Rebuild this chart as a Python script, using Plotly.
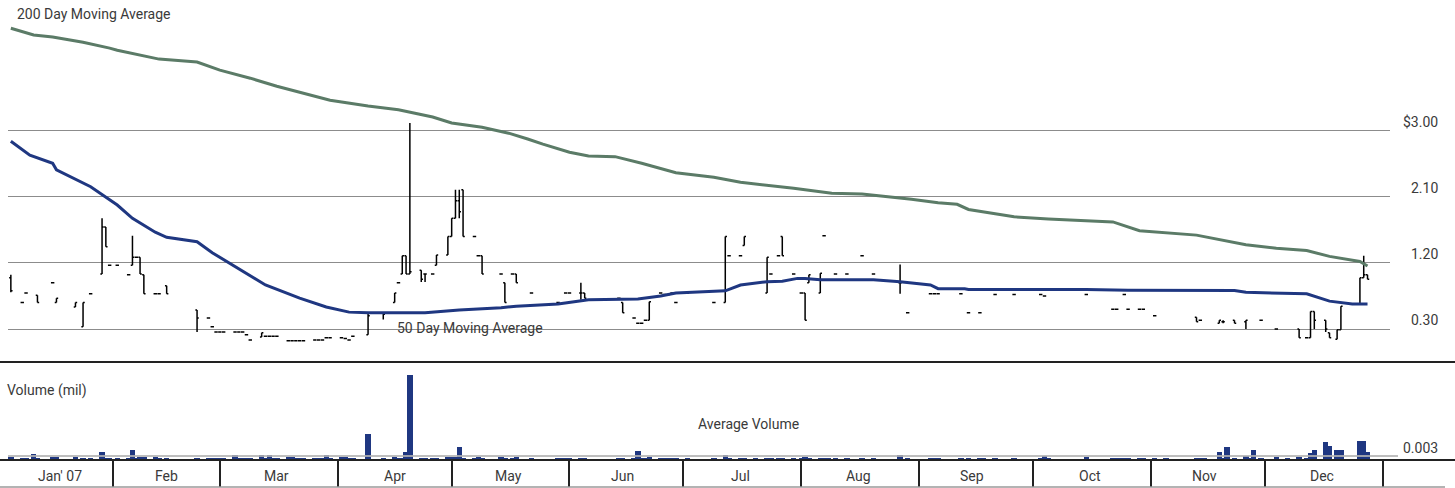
import plotly.graph_objects as go

# ---------------- daily price bars (2007), $ ----------------
price_days = [
    # Jan
    "01-05", "01-08", "01-09", "01-12", "01-16", "01-17", "01-22", "01-24", "01-26", "01-29", "01-30", "01-31",
    # Feb
    "02-02", "02-05", "02-06", "02-07", "02-08", "02-09", "02-12", "02-13", "02-15", "02-23", "02-26", "02-27", "02-28",
    # Mar
    "03-01", "03-02", "03-05", "03-06", "03-07", "03-08", "03-09", "03-12", "03-13", "03-14", "03-15", "03-16",
    "03-19", "03-20", "03-21", "03-22", "03-23", "03-26", "03-27", "03-28", "03-29", "03-30",
    # Apr
    "04-02", "04-03", "04-04", "04-05", "04-09", "04-13", "04-16", "04-17", "04-18", "04-19", "04-20", "04-23",
    "04-24", "04-26", "04-27", "04-30",
    # May
    "05-01", "05-02", "05-03", "05-04", "05-07", "05-08", "05-09", "05-14", "05-15", "05-17", "05-18", "05-22",
    "05-29", "05-31",
    # Jun
    "06-01", "06-04", "06-05", "06-14", "06-15", "06-18", "06-19", "06-20", "06-21", "06-22", "06-25", "06-26",
    "06-27", "06-28", "06-29",
    # Jul
    "07-02", "07-09", "07-12", "07-13", "07-16", "07-17", "07-23", "07-24", "07-26", "07-27", "07-30",
    # Aug
    "08-01", "08-02", "08-03", "08-06", "08-07", "08-10", "08-13", "08-17", "08-20", "08-27", "08-29",
    # Sep
    "09-04", "09-05", "09-06", "09-12", "09-14", "09-17", "09-21", "09-26",
    # Oct
    "10-03", "10-04", "10-15", "10-22", "10-23", "10-25", "10-26", "10-29", "10-30",
    # Nov
    "11-02", "11-13", "11-14", "11-19", "11-20", "11-23", "11-26", "11-30",
    # Dec
    "12-04", "12-10", "12-12", "12-13", "12-14", "12-17", "12-18", "12-20", "12-21", "12-26", "12-27", "12-28",
]

price_open = [
    1.00, .66, .79, .76, .93, .66, .60, .33, .78, 1.05, 1.69, 1.17,
    1.17, 1.04, 1.17, 1.28, 1.28, 1.04, .78, .78, .89, .56, .45, .33, .26,
    .26, .26, .26, .26, .26, .22, .15, .19, .20, .20, .20, .20,
    .14, .14, .14, .14, .14, .15, .15, .15, .18, .18,
    .18, .17, .15, .20, .22, .52, .66, .93, 1.05, 1.30, 1.05, 1.10,
    1.05, 1.05, 1.17, 1.31,
    1.56, 1.81, 2.05, 2.20, 1.56, 1.30, 1.30, 1.05, .93, 1.05, 1.05, .79,
    .66, .79,
    .79, .79, .79, .72, .66, .45, .38, .38, .42, .42, .79, .77,
    .77, .79, .66,
    .79, .66, .66, 1.30, 1.30, 1.44, .79, 1.05, 1.30, 1.56, 1.05,
    .79, .79, .93, .79, 1.57, 1.05, 1.05, 1.30, 1.05, .93, .52,
    .78, .78, .78, .78, .52, .52, .77, .77,
    .77, .75, .77, .57, .57, .77, .57, .57, .57,
    .48, .46, .42, .38, .40, .42, .40, .42,
    .30, .30, .18, .18, .54, .42, .25, .16, .29, .64, 1.00, 1.04,
]

price_high = [
    1.04, .66, .79, .76, .93, .72, .66, .66, .78, 1.81, 1.69, 1.17,
    1.17, 1.04, 1.57, 1.28, 1.28, 1.04, .78, .78, .89, .56, .45, .33, .26,
    .26, .26, .26, .26, .26, .22, .15, .25, .20, .20, .20, .20,
    .14, .14, .14, .14, .14, .15, .15, .15, .18, .18,
    .18, .17, .15, .20, .52, .52, .79, .93, 1.30, 1.30, 3.11, 1.10,
    1.05, 1.05, 1.31, 1.56,
    1.81, 2.20, 2.20, 2.20, 1.56, 1.30, 1.30, 1.05, .93, 1.05, 1.05, .79,
    .66, .79,
    .79, .93, .79, .72, .66, .45, .38, .38, .42, .67, .79, .77,
    .77, .79, .66,
    .79, .66, 1.56, 1.30, 1.30, 1.56, 1.28, 1.05, 1.30, 1.56, 1.05,
    .79, .79, 1.04, 1.06, 1.57, 1.05, 1.05, 1.30, 1.05, 1.18, .52,
    .78, .78, .78, .78, .52, .52, .77, .77,
    .77, .75, .77, .57, .57, .77, .57, .57, .57,
    .48, .46, .42, .42, .42, .42, .42, .42,
    .30, .30, .18, .54, .54, .42, .25, .29, .61, 1.00, 1.30, 1.04,
]

price_low = [
    .80, .66, .79, .66, .93, .66, .60, .33, .78, 1.05, 1.42, 1.17,
    1.17, 1.04, 1.17, 1.28, 1.05, .78, .78, .78, .78, .26, .45, .33, .26,
    .26, .26, .26, .26, .26, .22, .15, .19, .20, .20, .20, .20,
    .14, .14, .14, .14, .14, .15, .15, .15, .18, .18,
    .18, .17, .15, .20, .22, .43, .66, .93, 1.05, 1.05, 1.05, .94,
    .94, 1.05, 1.17, 1.31,
    1.56, 1.81, 1.81, 1.56, 1.56, 1.30, 1.05, 1.05, .66, 1.05, .93, .79,
    .66, .79,
    .79, .70, .72, .72, .52, .45, .38, .38, .42, .42, .79, .77,
    .77, .79, .66,
    .79, .66, .66, 1.30, 1.30, 1.44, .79, 1.05, 1.30, 1.30, 1.05,
    .79, .42, .93, .79, 1.57, 1.05, 1.05, 1.30, 1.05, .78, .52,
    .78, .78, .78, .78, .52, .52, .77, .77,
    .77, .75, .77, .57, .57, .77, .57, .57, .57,
    .48, .40, .42, .38, .38, .38, .30, .42,
    .30, .18, .18, .18, .30, .26, .18, .16, .29, .64, 1.00, .98,
]

price_close = [
    .82, .66, .79, .66, .93, .72, .66, .66, .78, 1.69, 1.42, 1.17,
    1.17, 1.04, 1.28, 1.28, 1.05, .78, .78, .78, .78, .45, .45, .33, .26,
    .26, .26, .26, .26, .26, .22, .15, .25, .20, .20, .20, .20,
    .14, .14, .14, .14, .14, .15, .15, .15, .18, .18,
    .18, .17, .15, .20, .48, .50, .79, .93, 1.30, 1.05, 1.08, .98,
    1.05, 1.05, 1.31, 1.56,
    1.81, 2.05, 1.90, 1.56, 1.56, 1.30, 1.05, 1.05, .66, 1.05, .93, .79,
    .66, .79,
    .79, .79, .72, .72, .52, .45, .38, .38, .42, .67, .79, .77,
    .77, .79, .66,
    .79, .66, 1.56, 1.30, 1.30, 1.56, 1.28, 1.05, 1.30, 1.30, 1.05,
    .79, .42, 1.04, 1.06, 1.57, 1.05, 1.05, 1.30, 1.05, .93, .52,
    .78, .78, .78, .78, .52, .52, .77, .77,
    .77, .75, .77, .57, .57, .77, .57, .57, .57,
    .48, .40, .42, .42, .40, .38, .42, .42,
    .30, .18, .18, .54, .42, .30, .18, .29, .61, 1.00, 1.04, .98,
]

# ---------------- moving averages, $ ----------------
ma200_days = ["01-05", "01-11", "01-16", "01-24", "01-31", "02-02", "02-13", "02-23", "03-01", "03-09",
              "03-16", "03-30", "04-09", "04-17", "04-26", "05-01", "05-09", "05-16", "05-21", "05-25",
              "06-01", "06-06", "06-13", "06-20", "06-29", "07-09", "07-16", "07-24", "07-30", "08-09",
              "08-17", "08-30", "09-06", "09-11", "09-14", "09-26", "10-05", "10-22", "10-29", "11-13",
              "11-26", "12-04", "12-12", "12-18", "12-26", "12-28"]
ma200_values = [4.40, 4.31, 4.28, 4.21, 4.13, 4.10, 3.98, 3.94, 3.83, 3.72,
                3.61, 3.42, 3.34, 3.29, 3.19, 3.11, 3.05, 2.97, 2.89, 2.82,
                2.71, 2.66, 2.65, 2.56, 2.43, 2.37, 2.30, 2.26, 2.22, 2.15,
                2.14, 2.07, 2.02, 2.00, 1.93, 1.83, 1.80, 1.76, 1.64, 1.58,
                1.45, 1.40, 1.37, 1.29, 1.22, 1.16]

ma50_days = ["01-05", "01-10", "01-16", "01-17", "01-26", "01-31", "02-02", "02-06", "02-12", "02-15",
             "02-23", "02-27", "03-05", "03-13", "03-22", "03-29", "04-04", "04-09", "04-24", "05-03",
             "05-14", "05-18", "05-29", "06-06", "06-19", "06-25", "06-29", "07-12", "07-16", "07-23",
             "07-27", "07-31", "08-02", "08-06", "08-20", "08-27", "09-04", "09-06", "09-13", "09-14",
             "10-15", "10-26", "11-23", "11-26", "12-12", "12-18", "12-24", "12-28"]
ma50_values = [2.86, 2.67, 2.56, 2.47, 2.24, 2.07, 1.99, 1.81, 1.62, 1.55,
               1.49, 1.34, 1.15, 0.90, 0.72, 0.60, 0.53, 0.52, 0.52, 0.56,
               0.59, 0.61, 0.64, 0.70, 0.71, 0.75, 0.79, 0.82, 0.90, 0.945,
               0.95, 0.99, 0.99, 0.97, 0.97, 0.945, 0.90, 0.85, 0.85, 0.84,
               0.84, 0.83, 0.825, 0.80, 0.78, 0.68, 0.64, 0.64]

# ---------------- daily volume, millions of shares ----------------
vol_days = [
    "01-05", "01-08", "01-09", "01-11", "01-12", "01-16", "01-17", "01-22", "01-24", "01-26", "01-29", "01-30", "01-31",
    "02-02", "02-05", "02-06", "02-07", "02-08", "02-09", "02-12", "02-13", "02-15", "02-23", "02-26", "02-27", "02-28",
    "03-01", "03-02", "03-05", "03-06", "03-07", "03-08", "03-09", "03-12", "03-13", "03-14", "03-15",
    "03-16", "03-19", "03-20", "03-21", "03-22", "03-23", "03-26", "03-27", "03-28", "03-29", "03-30",
    "04-02", "04-03", "04-04", "04-05", "04-09", "04-13", "04-16", "04-17", "04-18", "04-19", "04-20",
    "04-23", "04-24", "04-26", "04-27", "04-30",
    "05-01", "05-02", "05-03", "05-04", "05-07", "05-08", "05-09", "05-14", "05-15", "05-17", "05-18",
    "05-22", "05-29", "05-30", "05-31",
    "06-01", "06-04", "06-05", "06-14", "06-15", "06-18", "06-19", "06-20", "06-21", "06-22", "06-25",
    "06-26", "06-27", "06-28", "06-29",
    "07-02", "07-09", "07-12", "07-13", "07-16", "07-17", "07-20", "07-23", "07-24", "07-26", "07-27", "07-30",
    "08-01", "08-02", "08-03", "08-06", "08-07", "08-08", "08-10", "08-13", "08-17", "08-20", "08-27", "08-29",
    "09-04", "09-05", "09-06", "09-12", "09-14", "09-17", "09-18", "09-21", "09-26",
    "10-03", "10-04", "10-05", "10-15", "10-22", "10-23", "10-24", "10-25", "10-26", "10-29", "10-30",
    "11-02", "11-05", "11-13", "11-14", "11-15", "11-19", "11-20", "11-21", "11-23", "11-26", "11-27", "11-28", "11-30",
    "12-04", "12-07", "12-10", "12-12", "12-13", "12-14", "12-17", "12-18", "12-20", "12-21", "12-26", "12-27", "12-28",
]
vol_values = [
    .0022, .0015, .0015, .0045, .0015, .0022, .0022, .0022, .0015, .0015, .0060, .0015, .0015,
    .0015, .0015, .0075, .0015, .0022, .0022, .0022, .0015, .0015, .0011, .0011, .0011, .0011,
    .0015, .0015, .0037, .0015, .0015, .0015, .0015, .0037, .0015, .0037, .0015,
    .0015, .0026, .0022, .0015, .0015, .0015, .0015, .0015, .0015, .0037, .0015,
    .0022, .0022, .0015, .0015, .0195, .0015, .0026, .0015, .0015, .0060, .0640,
    .0015, .0015, .0015, .0015, .0022,
    .0022, .0022, .0098, .0015, .0015, .0022, .0015, .0022, .0015, .0015, .0022,
    .0015, .0011, .0011, .0011,
    .0011, .0011, .0011, .0015, .0015, .0015, .0068, .0015, .0015, .0022, .0011,
    .0011, .0011, .0011, .0011,
    .0011, .0015, .0037, .0015, .0015, .0015, .0015, .0015, .0015, .0015, .0015, .0015,
    .0015, .0022, .0015, .0015, .0015, .0015, .0015, .0015, .0015, .0015, .0037, .0015,
    .0015, .0015, .0015, .0015, .0015, .0015, .0015, .0015, .0015,
    .0015, .0030, .0015, .0022, .0015, .0015, .0015, .0015, .0015, .0015, .0015,
    .0015, .0015, .0015, .0015, .0015, .0060, .0015, .0098, .0015, .0030, .0015, .0075, .0015,
    .0022, .0015, .0022, .0015, .0053, .0075, .0135, .0105, .0075, .0075, .0142, .0142, .0060,
]
avg_volume = 0.003

# ---------------- axis labels ----------------
price_ticks = [0.30, 1.20, 2.10, 3.00]
price_tick_text = ["0.30", "1.20", "2.10", "$3.00"]
month_starts = ["2007-02-01", "2007-03-01", "2007-04-01", "2007-05-01", "2007-06-01", "2007-07-01",
                "2007-08-01", "2007-09-01", "2007-10-01", "2007-11-01", "2007-12-01", "2008-01-01"]
month_mids = ["2007-01-18", "2007-02-15", "2007-03-16", "2007-04-16", "2007-05-16", "2007-06-15",
              "2007-07-16", "2007-08-16", "2007-09-15", "2007-10-16", "2007-11-15", "2007-12-16"]
month_labels = ["Jan' 07", "Feb", "Mar", "Apr", "May", "Jun", "Jul", "Aug", "Sep", "Oct", "Nov", "Dec"]

assert len(price_days) == len(price_open) == len(price_high) == len(price_low) == len(price_close)
assert len(vol_days) == len(vol_values)
assert len(ma200_days) == len(ma200_values) and len(ma50_days) == len(ma50_values)


def to_dates(days):
    return ["2007-" + d for d in days]


GREEN = "#5b7b67"
NAVY = "#1f3781"
TEXT = "#3a3a3a"
FONT = "Roboto, Liberation Sans, sans-serif"
FSIZE = 14

W, H = 1455, 488
L, R, T, B = 8, 65, 0, 28
plot_w = W - L - R
plot_h = H - T - B
split = (plot_h - 362) / plot_h  # boundary between price and volume panels


def px_x(px):
    return (px - L) / plot_w


def px_y(py):
    return (plot_h - py) / plot_h


fig = go.Figure()

fig.add_trace(go.Ohlc(
    x=to_dates(price_days), open=price_open, high=price_high, low=price_low, close=price_close,
    increasing=dict(line=dict(color="black", width=1.5)),
    decreasing=dict(line=dict(color="black", width=1.5)),
    tickwidth=0.45, yaxis="y", hoverinfo="skip",
))
fig.add_trace(go.Scatter(
    x=to_dates(ma200_days), y=ma200_values, mode="lines",
    line=dict(color=GREEN, width=3), yaxis="y", hoverinfo="skip",
))
fig.add_trace(go.Scatter(
    x=to_dates(ma50_days), y=ma50_values, mode="lines",
    line=dict(color=NAVY, width=3), yaxis="y", hoverinfo="skip",
))
fig.add_trace(go.Bar(
    x=to_dates(vol_days), y=vol_values, yaxis="y2",
    marker=dict(color=NAVY, line=dict(width=0)),
    width=86400000 * 1.4, hoverinfo="skip",
))

full_left, full_right = px_x(0), px_x(W)
shapes = [
    # panel divider and volume baseline
    dict(type="line", xref="paper", yref="paper", x0=full_left, x1=full_right, y0=split, y1=split,
         line=dict(color="#222222", width=2)),
    dict(type="line", xref="paper", yref="paper", x0=full_left, x1=full_right, y0=0, y1=0,
         line=dict(color="#222222", width=2)),
    # bottom rule under the month labels
    dict(type="line", xref="paper", yref="paper", x0=full_left, x1=px_x(1445), y0=px_y(487), y1=px_y(487),
         line=dict(color="#9a9a9a", width=1.5)),
    # average volume level
    dict(type="line", xref="paper", yref="y2", x0=0, x1=px_x(1398), y0=avg_volume, y1=avg_volume,
         line=dict(color="#b3b3b3", width=2), layer="above", opacity=0.85),
]

label_font = dict(family=FONT, size=FSIZE, color=TEXT)
annotations = []
for v, t in zip(price_ticks, price_tick_text):
    annotations.append(dict(xref="paper", yref="y", x=px_x(1440), y=v, text=t, showarrow=False,
                            xanchor="right", yanchor="bottom", yshift=-1, font=label_font))
for d, t in zip(month_mids, month_labels):
    annotations.append(dict(xref="x", yref="paper", x=d, y=px_y(476), text=t, showarrow=False,
                            xanchor="center", yanchor="middle", font=label_font))
annotations += [
    dict(xref="paper", yref="paper", x=px_x(15), y=px_y(14), text="200 Day Moving Average",
         showarrow=False, xanchor="left", yanchor="middle", font=label_font),
    dict(xref="paper", yref="paper", x=px_x(395), y=px_y(328), text="50 Day Moving Average",
         showarrow=False, xanchor="left", yanchor="middle", font=label_font),
    dict(xref="paper", yref="paper", x=px_x(5), y=px_y(390), text="Volume (mil)",
         showarrow=False, xanchor="left", yanchor="middle", font=label_font),
    dict(xref="paper", yref="paper", x=px_x(748), y=px_y(424), text="Average Volume",
         showarrow=False, xanchor="center", yanchor="middle", font=label_font),
    dict(xref="paper", yref="paper", x=px_x(1440), y=px_y(448), text="0.003",
         showarrow=False, xanchor="right", yanchor="middle", font=label_font),
]

fig.update_layout(
    width=W, height=H,
    margin=dict(l=L, r=R, t=T, b=B),
    paper_bgcolor="white", plot_bgcolor="white",
    showlegend=False, bargap=0,
    xaxis=dict(
        type="date", range=["2007-01-04 06:00", "2008-01-02 22:00"], anchor="y2",
        tickvals=month_starts, ticktext=[""] * len(month_starts),
        ticks="outside", ticklen=26, tickwidth=2, tickcolor="#222222",
        showgrid=False, zeroline=False, showline=False,
        rangeslider=dict(visible=False),
    ),
    yaxis=dict(
        domain=[split, 1], range=[-0.15, 4.786],
        tickvals=price_ticks, showticklabels=False, ticks="",
        showgrid=True, gridcolor="#8c8c8c", gridwidth=1, zeroline=False,
    ),
    yaxis2=dict(
        domain=[0, split], range=[0, 0.0735],
        showticklabels=False, showgrid=False, zeroline=False, ticks="",
    ),
    shapes=shapes,
    annotations=annotations,
)

fig.write_html("out.html")
